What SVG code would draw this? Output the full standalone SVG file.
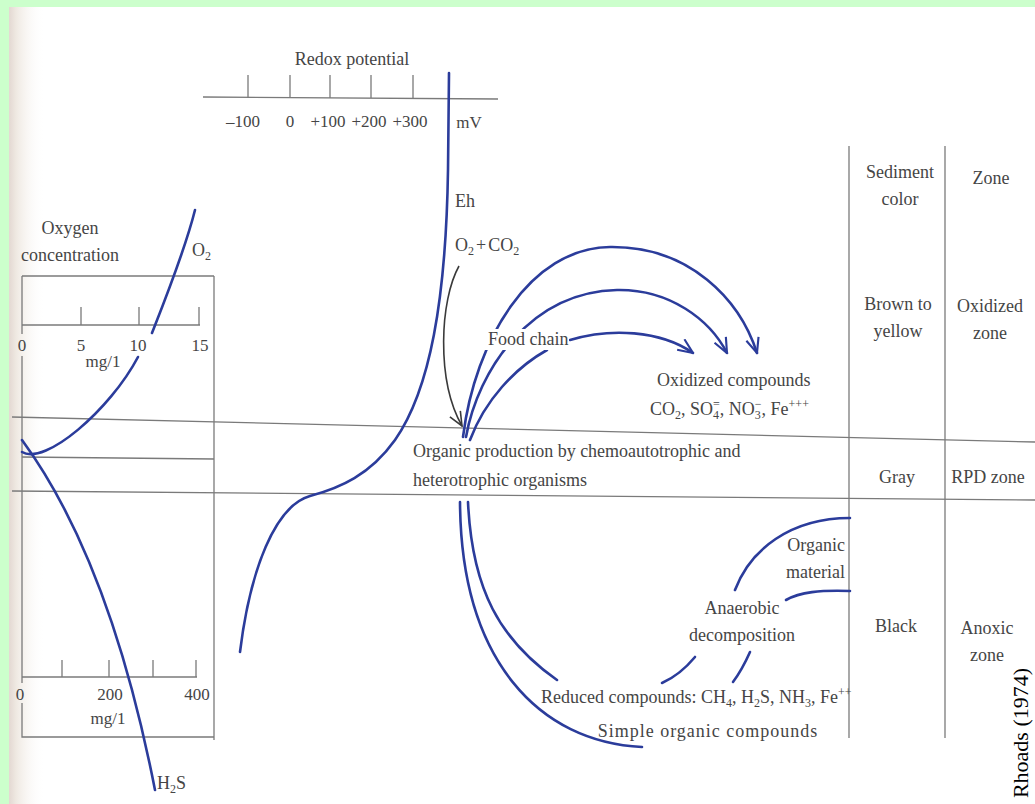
<svg xmlns="http://www.w3.org/2000/svg" width="1035" height="804" viewBox="0 0 1035 804">
<style>
text { font-family: "Liberation Serif", "Times New Roman", serif; fill: #454545; font-size: 18px; }
.c { text-anchor: middle; }
.e { text-anchor: end; }
.ax { font-size: 17px; }
.sub { font-size: 12px; }
.grid { stroke: #7a7a7a; stroke-width: 1.3; fill: none; }
.blue { stroke: #2b3c9b; stroke-width: 2.6; fill: none; stroke-linecap: round; }
.blk { stroke: #3a3a3a; stroke-width: 1.6; fill: none; }
.src { fill: #000; font-size: 22px; }
.mask { fill: #ffffff; stroke: none; }
</style>
<defs>
<linearGradient id="edge" x1="0" x2="1" y1="0" y2="0">
<stop offset="0" stop-color="#e3d8d2"/>
<stop offset="0.2" stop-color="#efe9e2"/>
<stop offset="1" stop-color="#ffffff" stop-opacity="0"/>
</linearGradient>
<marker id="ab" viewBox="0 0 16 14" refX="15" refY="7" markerWidth="17" markerHeight="15" markerUnits="userSpaceOnUse" orient="auto">
<path d="M1,1 L15,7 L1,13" fill="none" stroke="#2b3c9b" stroke-width="2"/>
</marker>
<marker id="ak" viewBox="0 0 16 14" refX="15" refY="7" markerWidth="16" markerHeight="14" markerUnits="userSpaceOnUse" orient="auto">
<path d="M1,1 L15,7 L1,13" fill="none" stroke="#3a3a3a" stroke-width="1.6"/>
</marker>
</defs>

<g id="background">
<rect x="0" y="0" width="1035" height="804" fill="#ffffff"/>
<rect x="9" y="7" width="36" height="797" fill="url(#edge)"/>
<rect x="0" y="0" width="1035" height="7" fill="#ccffcc"/>
<rect x="0" y="0" width="9" height="804" fill="#ccffcc"/>
</g>

<g id="zone-lines">
<line class="grid" x1="12" y1="417" x2="1035" y2="442"/>
<line class="grid" x1="22" y1="457" x2="214" y2="459"/>
<line class="grid" x1="12" y1="491" x2="1035" y2="500"/>
<line class="grid" x1="849" y1="146" x2="849" y2="738"/>
<line class="grid" x1="945" y1="146" x2="945" y2="738"/>
</g>

<g id="redox-axis">
<text class="c" x="352" y="65">Redox potential</text>
<line class="grid" x1="203" y1="97" x2="498" y2="99"/>
<path class="grid" d="M248,75 V98 M290,75 V98 M330,75 V98 M371,75 V98 M413,75 V98"/>
<text class="c ax" x="243" y="127">–100</text>
<text class="c ax" x="290" y="127">0</text>
<text class="c ax" x="328" y="127">+100</text>
<text class="c ax" x="369" y="127">+200</text>
<text class="c ax" x="410" y="127">+300</text>
<text class="c ax" x="469" y="128">mV</text>
</g>

<g id="oxygen-chart">
<text class="c" x="70" y="234">Oxygen</text>
<text class="c" x="70" y="261">concentration</text>
<line class="grid" x1="22" y1="276" x2="214" y2="276"/>
<line class="grid" x1="214" y1="276" x2="214" y2="740"/>
<path class="grid" d="M22,276 V334 M22,356 V683 M22,703 V737 L214,737"/>
<line class="grid" x1="22" y1="325" x2="200" y2="325"/>
<path class="grid" d="M81,307 V325 M139,307 V325 M199,307 V325"/>
<text class="c ax" x="22" y="351">0</text>
<text class="c ax" x="81" y="351">5</text>
<text class="c ax" x="138" y="351">10</text>
<text class="c ax" x="200" y="351">15</text>
<text class="c ax" x="103" y="367">mg/1</text>
<line class="grid" x1="22" y1="677" x2="197" y2="677"/>
<path class="grid" d="M62,660 V677 M109,660 V677 M153,660 V677 M196,660 V677"/>
<text class="c ax" x="20" y="700">0</text>
<text class="c ax" x="110" y="700">200</text>
<text class="c ax" x="197" y="700">400</text>
<text class="c ax" x="108" y="724">mg/1</text>
</g>

<g id="o2-curve">
<path class="blue" d="M22,452 C45,466 110,410 138,357"/>
<path class="blue" d="M152,333 C165,300 185,250 195,210"/>
<text x="192" y="256">O<tspan class="sub" dy="4">2</tspan></text>
</g>

<g id="h2s-curve">
<path class="blue" d="M22,440 Q110,560 155,790"/>
<text x="157" y="789">H<tspan class="sub" dy="4">2</tspan><tspan dy="-4">S</tspan></text>
</g>

<g id="eh-curve">
<path class="blue" d="M449,73 L448,170 C446,300 430,390 395,440 C370,475 340,488 310,496 C275,506 250,570 240,652"/>
<text x="455" y="207">Eh</text>
</g>

<g id="o2-co2">
<text x="455" y="251">O<tspan class="sub" dy="4">2</tspan><tspan dy="-4" dx="2">+</tspan><tspan dx="2">CO</tspan><tspan class="sub" dy="4">2</tspan></text>
</g>

<g id="oxidized-compounds">
<text x="657" y="386">Oxidized compounds</text>
<text x="650" y="415">CO<tspan class="sub" dy="4">2</tspan><tspan dy="-4">, SO</tspan><tspan class="sub" dy="4">4</tspan><tspan class="sub" dx="-6" dy="-11">=</tspan><tspan dy="7">, NO</tspan><tspan class="sub" dy="4">3</tspan><tspan class="sub" dx="-6" dy="-11">−</tspan><tspan dy="7">, Fe</tspan><tspan class="sub" dy="-7">+++</tspan></text>
</g>

<g id="organic-production">
<text x="413" y="457">Organic production by chemoautotrophic and</text>
<text x="413" y="486">heterotrophic organisms</text>
</g>

<g id="organic-material">
<text class="e" x="845" y="551">Organic</text>
<text class="e" x="845" y="578">material</text>
</g>

<g id="anaerobic-decomposition">
<text class="c" x="742" y="614">Anaerobic</text>
<text class="c" x="742" y="641">decomposition</text>
</g>

<g id="reduced-compounds">
<text x="541" y="703">Reduced compounds: CH<tspan class="sub" dy="4">4</tspan><tspan dy="-4">, H</tspan><tspan class="sub" dy="4">2</tspan><tspan dy="-4">S, NH</tspan><tspan class="sub" dy="4">3</tspan><tspan dy="-4">, Fe</tspan><tspan class="sub" dy="-7">++</tspan></text>
<text class="c" x="708" y="737" letter-spacing="1">Simple organic compounds</text>
</g>

<g id="table-header">
<text class="c" x="900" y="178">Sediment</text>
<text class="c" x="900" y="205">color</text>
<text class="c" x="991" y="184">Zone</text>
</g>
<g id="row-oxidized">
<text class="c" x="898" y="310">Brown to</text>
<text class="c" x="898" y="337">yellow</text>
<text class="c" x="990" y="312">Oxidized</text>
<text class="c" x="990" y="339">zone</text>
</g>
<g id="row-rpd">
<text class="c" x="897" y="483">Gray</text>
<text class="c" x="988" y="483">RPD zone</text>
</g>
<g id="row-anoxic">
<text class="c" x="896" y="632">Black</text>
<text class="c" x="987" y="634">Anoxic</text>
<text class="c" x="987" y="661">zone</text>
</g>

<g id="source">
<text class="c src" transform="translate(1028,733) rotate(-90)">Rhoads (1974)</text>
</g>

<g id="connectors">
<path class="blk" d="M459,266 C440,300 436,380 462,426" marker-end="url(#ak)"/>
<path class="blue" d="M463,437 C475,340 530,248 610,247 C690,246 740,300 757,353" marker-end="url(#ab)"/>
<path class="blue" d="M466,437 C478,370 530,292 617,290 C670,289 710,320 727,353" marker-end="url(#ab)"/>
<path class="blue" d="M470,440 C485,400 515,368 547,350"/>
<path class="blue" d="M570,340 C610,328 660,330 693,353" marker-end="url(#ab)"/>
<path class="blue" d="M460,502 C461,662 540,742 642,747"/>
<path class="blue" d="M468,502 C472,590 500,640 557,680"/>
<path class="blue" d="M850,518 C790,518 750,550 735,590"/>
<path class="blue" d="M850,591 C820,590 800,592 786,600"/>
<path class="blue" d="M695,657 Q680,675 662,683"/>
<path class="blue" d="M750,652 Q742,670 733,682"/>
</g>

<g id="food-chain">
<rect class="mask" x="485" y="329" width="84" height="21"/>
<text x="488" y="345">Food chain</text>
</g>
</svg>
